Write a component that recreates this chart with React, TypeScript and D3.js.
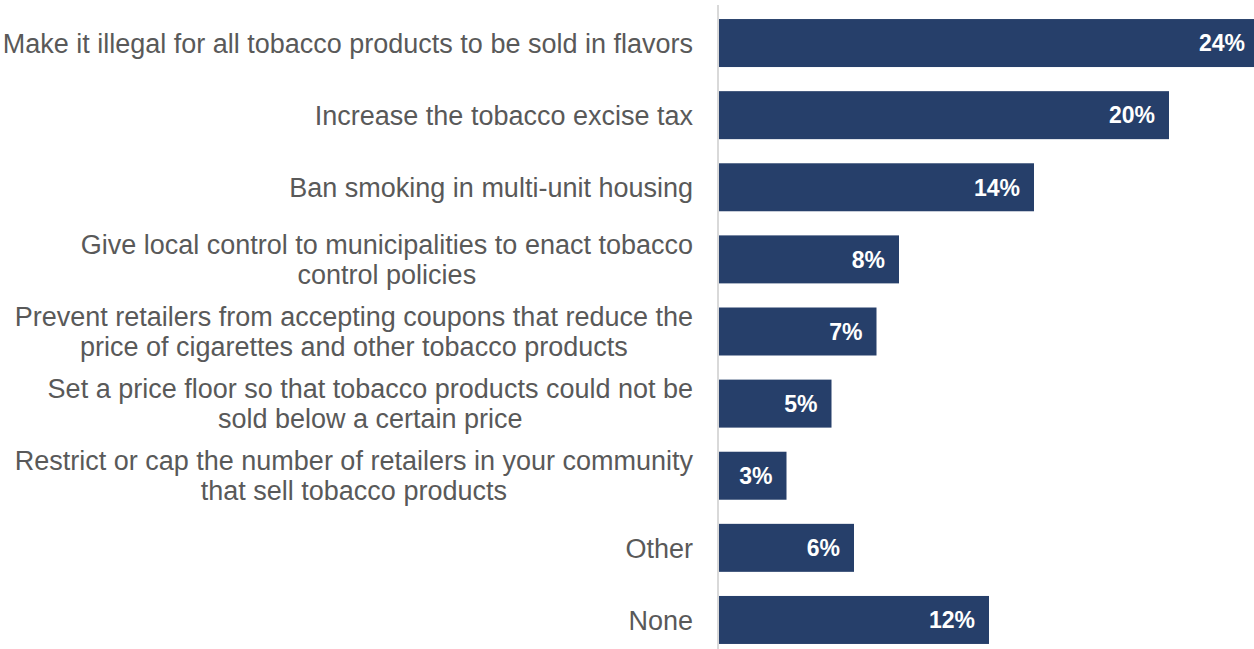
import React, { useEffect, useRef } from "react";
import * as d3 from "d3";

const categories: string[] = [
  "Make it illegal for all tobacco products to be sold in flavors",
  "Increase the tobacco excise tax",
  "Ban smoking in multi-unit housing",
  "Give local control to municipalities to enact tobacco control policies",
  "Prevent retailers from accepting coupons that reduce the price of cigarettes and other tobacco products",
  "Set a price floor so that tobacco products could not be sold below a certain price",
  "Restrict or cap the number of retailers in your community that sell tobacco products",
  "Other",
  "None",
];

const labelLines: string[][] = [
  ["Make it illegal for all tobacco products to be sold in flavors"],
  ["Increase the tobacco excise tax"],
  ["Ban smoking in multi-unit housing"],
  ["Give local control to municipalities to enact tobacco", "control policies"],
  ["Prevent retailers from accepting coupons that reduce the", "price of cigarettes and other tobacco products"],
  ["Set a price floor so that tobacco products could not be", "sold below a certain price"],
  ["Restrict or cap the number of retailers in your community", "that sell tobacco products"],
  ["Other"],
  ["None"],
];

const values: number[] = [24, 20, 14, 8, 7, 5, 3, 6, 12];

const W = 1254;
const H = 649;

export default function App() {
  const ref = useRef<SVGSVGElement | null>(null);

  useEffect(() => {
    const svg = d3.select(ref.current);
    svg.selectAll("*").remove();

    const x = d3.scaleLinear().domain([0, 24]).range([719, 719 + 540]);
    const y = d3
      .scaleBand<string>()
      .domain(categories)
      .range([7, 656])
      .paddingInner(0.3345)
      .paddingOuter(0.167);

    const barColor = "#263F6A";

    svg
      .append("g")
      .selectAll("rect")
      .data(values)
      .join("rect")
      .attr("x", x(0))
      .attr("y", (_d, i) => y(categories[i])!)
      .attr("width", (d) => x(d) - x(0))
      .attr("height", y.bandwidth())
      .attr("fill", barColor);

    svg
      .append("line")
      .attr("x1", 718)
      .attr("x2", 718)
      .attr("y1", 5)
      .attr("y2", H)
      .attr("stroke", "#d9d9d9")
      .attr("stroke-width", 2);

    svg
      .append("g")
      .selectAll("text")
      .data(values)
      .join("text")
      .attr("x", (d) => x(d) - 14)
      .attr("y", (_d, i) => y(categories[i])! + y.bandwidth() / 2)
      .attr("dy", "0.36em")
      .attr("text-anchor", "end")
      .attr("fill", "#ffffff")
      .attr("font-family", "'Liberation Sans', Arial, sans-serif")
      .attr("font-weight", "bold")
      .attr("font-size", 23)
      .text((d) => `${d}%`);

    const lineH = 30;
    const right = 693;
    const lg = svg.append("g");
    labelLines.forEach((lines, i) => {
      const cy = y(categories[i])! + y.bandwidth() / 2;
      const n = lines.length;
      const texts = lines.map((line, j) =>
        lg
          .append("text")
          .attr("y", cy + (j - (n - 1) / 2) * lineH)
          .attr("dy", "0.36em")
          .attr("text-anchor", "middle")
          .attr("fill", "#595959")
          .attr("font-family", "'Liberation Sans', Arial, sans-serif")
          .attr("font-size", 27)
          .text(line)
      );
      const widths = texts.map((t) => (t.node() as SVGTextElement).getComputedTextLength());
      const maxW = d3.max(widths) || 0;
      texts.forEach((t) => t.attr("x", right - maxW / 2));
    });
  }, []);

  return (
    <svg
      ref={ref}
      width={W}
      height={H}
      style={{ position: "absolute", left: 0, top: 0, background: "#ffffff" }}
    />
  );
}
